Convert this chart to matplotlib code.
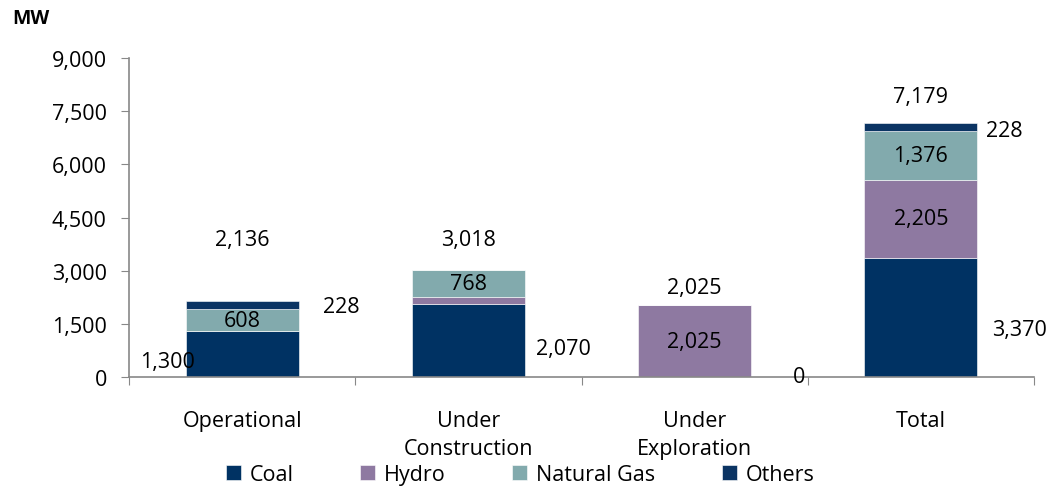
import matplotlib
matplotlib.use("Agg")
import matplotlib.pyplot as plt
import numpy as np

categories = ["Operational", "Under\nConstruction", "Under\nExploration", "Total"]
series_names = ["Coal", "Hydro", "Natural Gas", "Others"]
coal = [1300, 2070, 0, 3370]
hydro = [0, 180, 2025, 2205]
gas = [608, 768, 0, 1376]
others = [228, 0, 0, 228]
totals = [2136, 3018, 2025, 7179]
yticks = [0, 1500, 3000, 4500, 6000, 7500, 9000]

colors = ["#003263", "#8E79A1", "#82AAAD", "#0B3463"]

plt.rcParams['font.family'] = ['Open Sans', 'DejaVu Sans']
fig = plt.figure(figsize=(10.53, 4.89), dpi=100)
ax = fig.add_axes([0.1225, 0.227, 0.8595, 0.652])

x = np.arange(len(categories))
w = 0.5
bottom = np.zeros(len(categories))
for vals, name, c in zip([coal, hydro, gas, others], series_names, colors):
    ax.bar(x, vals, w, bottom=bottom, color=c, label=name, edgecolor='white', linewidth=0.4)
    bottom += np.array(vals)

fs = 15.5
# in-bar labels
ax.text(x[0], coal[0] + gas[0] / 2, f"{gas[0]:,}", ha='center', va='center', fontsize=fs)
ax.text(x[1], coal[1] + hydro[1] + gas[1] / 2, f"{gas[1]:,}", ha='center', va='center', fontsize=fs)
ax.text(x[2], hydro[2] / 2, f"{hydro[2]:,}", ha='center', va='center', fontsize=fs)
ax.text(x[3], coal[3] + gas[3] / 2 + hydro[3], f"{gas[3]:,}", ha='center', va='center', fontsize=fs)
ax.text(x[3], coal[3] + hydro[3] / 2, f"{hydro[3]:,}", ha='center', va='center', fontsize=fs)

# coal labels outside
ax.text(x[0] - 0.33, 450, f"{coal[0]:,}", ha='center', va='center', fontsize=fs)
ax.text(x[1] + 0.42, 800, f"{coal[1]:,}", ha='center', va='center', fontsize=fs)
ax.text(x[2] + 0.46, 0, f"{coal[2]:,}", ha='center', va='center', fontsize=fs)
ax.text(x[3] + 0.435, 1350, f"{coal[3]:,}", ha='center', va='center', fontsize=fs)

# others labels
ax.text(x[0] + 0.44, 2000, f"{others[0]:,}", ha='center', va='center', fontsize=fs)
ax.text(x[3] + 0.37, 6950, f"{others[3]:,}", ha='center', va='center', fontsize=fs)

# totals
tot_y = [3890, 3890, 2540, 7930]
for i in range(len(categories)):
    ax.text(x[i], tot_y[i], f"{totals[i]:,}", ha='center', va='center', fontsize=fs)

ax.set_xlim(-0.5, 3.5)
ax.set_ylim(0, 9000)
ax.set_yticks(yticks)
ax.set_yticklabels([f"{t:,}" for t in yticks], fontsize=fs)
ax.set_xticks(np.arange(-0.5, 4.0, 1.0))
ax.set_xticklabels([])
ax.set_xticks(x, minor=True)
ax.set_xticklabels(categories, minor=True, fontsize=fs, linespacing=1.4)
ax.tick_params(axis='x', which='minor', length=0, pad=24)
ax.tick_params(axis='x', which='major', length=6, color='#888888', direction='out')
ax.tick_params(axis='y', length=6, color='#888888', direction='out', pad=10)
for s in ['top', 'right']:
    ax.spines[s].set_visible(False)
for s in ['left', 'bottom']:
    ax.spines[s].set_color('#888888')
    ax.spines[s].set_linewidth(1.2)

fig.text(0.012, 0.962, "MW", fontsize=14, fontweight='bold', ha='left', va='center')

handles, labels = ax.get_legend_handles_labels()
leg = fig.legend(handles, labels, loc='center', bbox_to_anchor=(0.494, 0.028), ncol=4,
                 frameon=False, fontsize=fs, handlelength=0.7, handleheight=0.7,
                 handletextpad=0.4, columnspacing=3.1)

fig.savefig("out.png", dpi=100)
